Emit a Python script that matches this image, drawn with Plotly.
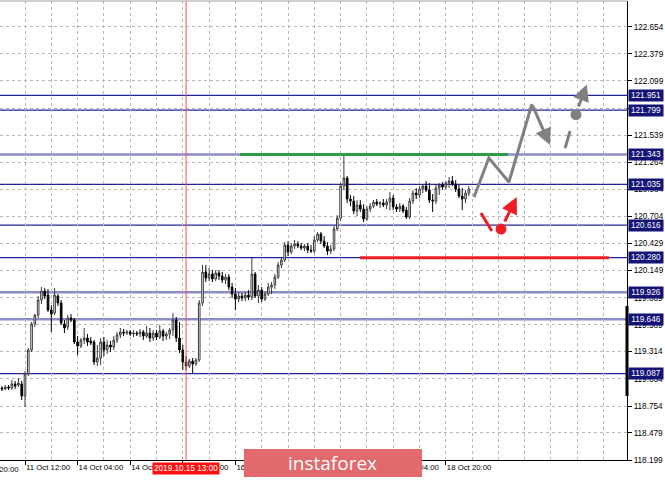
import plotly.graph_objects as go

# ---------------- data ----------------
# H1 bars, index 0 = 11 Oct 12:00
bar_index = list(range(-7, 136))

opens = [118.940, 118.930, 118.950, 118.940, 118.981, 118.971, 118.981, 118.857, 119.084, 119.331,
         119.598, 119.690, 119.845, 119.937, 119.896, 119.742, 119.711, 119.886, 119.814, 119.598,
         119.567, 119.660, 119.639, 119.413, 119.372, 119.433, 119.454, 119.423, 119.413, 119.207,
         119.248, 119.413, 119.331, 119.382, 119.361, 119.433, 119.485, 119.516, 119.505, 119.516,
         119.495, 119.505, 119.495, 119.516, 119.474, 119.505, 119.454, 119.505, 119.464, 119.526,
         119.474, 119.495, 119.536, 119.639, 119.454, 119.331, 119.207, 119.166, 119.217, 119.187,
         119.228, 119.814, 120.133, 120.071, 120.112, 120.061, 120.123, 120.092, 120.050, 120.081,
         119.978, 119.906, 119.855, 119.886, 119.865, 119.896, 119.875, 120.112, 119.886, 119.947,
         119.855, 119.906, 119.978, 119.999, 120.081, 120.205, 120.256, 120.410, 120.338, 120.400,
         120.421, 120.400, 120.379, 120.400, 120.359, 120.348, 120.462, 120.523, 120.451, 120.400,
         120.348, 120.369, 120.575, 120.688, 121.017, 121.100, 120.884, 120.863, 120.760, 120.822,
         120.781, 120.678, 120.781, 120.811, 120.852, 120.832, 120.842, 120.822, 120.852, 120.894,
         120.801, 120.781, 120.811, 120.770, 120.698, 120.863, 120.945, 120.925, 120.986, 121.017,
         120.976, 120.873, 120.863, 120.997, 121.028, 121.007, 121.048, 121.069, 121.038, 120.986,
         120.914, 120.884, 120.945]
highs = [118.960, 118.971, 118.971, 119.022, 119.012, 119.043, 119.012, 119.115, 119.351, 119.618,
         119.701, 119.886, 119.978, 119.968, 119.958, 119.793, 119.968, 119.907, 119.845, 119.639,
         119.690, 119.701, 119.660, 119.474, 119.454, 119.557, 119.495, 119.464, 119.433, 119.382,
         119.454, 119.464, 119.433, 119.423, 119.474, 119.516, 119.557, 119.547, 119.536, 119.536,
         119.536, 119.526, 119.547, 119.536, 119.577, 119.557, 119.536, 119.536, 119.588, 119.547,
         119.516, 119.557, 119.711, 119.670, 119.618, 119.382, 119.269, 119.238, 119.248, 119.248,
         119.845, 120.205, 120.205, 120.174, 120.153, 120.153, 120.153, 120.133, 120.112, 120.112,
         120.020, 119.968, 119.927, 119.917, 119.927, 119.947, 120.277, 120.133, 119.999, 119.978,
         119.927, 120.020, 120.030, 120.112, 120.236, 120.277, 120.441, 120.451, 120.431, 120.462,
         120.451, 120.431, 120.421, 120.431, 120.410, 120.503, 120.544, 120.544, 120.503, 120.441,
         120.410, 120.606, 120.719, 121.048, 121.343, 121.120, 120.925, 120.914, 120.873, 120.873,
         120.832, 120.811, 120.842, 120.873, 120.884, 120.863, 120.884, 120.884, 120.956, 120.925,
         120.832, 120.842, 120.832, 120.801, 120.894, 120.976, 120.997, 121.017, 121.038, 121.069,
         121.048, 120.935, 121.028, 121.048, 121.059, 121.069, 121.110, 121.120, 121.079, 121.028,
         120.997, 120.976, 121.017]
lows = [118.909, 118.919, 118.919, 118.919, 118.930, 118.950, 118.816, 118.744, 119.063, 119.310,
        119.567, 119.660, 119.804, 119.855, 119.721, 119.516, 119.690, 119.783, 119.588, 119.505,
        119.536, 119.618, 119.392, 119.279, 119.351, 119.392, 119.372, 119.382, 119.176, 119.166,
        119.176, 119.269, 119.290, 119.310, 119.331, 119.403, 119.454, 119.474, 119.485, 119.474,
        119.464, 119.474, 119.464, 119.433, 119.454, 119.413, 119.423, 119.433, 119.443, 119.423,
        119.433, 119.443, 119.474, 119.413, 119.300, 119.125, 119.125, 119.145, 119.094, 119.166,
        119.207, 119.783, 120.030, 120.040, 120.030, 120.040, 120.050, 120.020, 120.009, 119.947,
        119.865, 119.742, 119.824, 119.834, 119.834, 119.845, 119.845, 119.865, 119.814, 119.824,
        119.834, 119.886, 119.906, 119.958, 120.061, 120.174, 120.236, 120.297, 120.318, 120.369,
        120.379, 120.359, 120.348, 120.328, 120.328, 120.328, 120.441, 120.421, 120.379, 120.307,
        120.318, 120.348, 120.554, 120.657, 120.976, 120.842, 120.811, 120.729, 120.708, 120.750,
        120.646, 120.657, 120.750, 120.791, 120.811, 120.791, 120.801, 120.781, 120.770, 120.770,
        120.750, 120.750, 120.740, 120.678, 120.678, 120.832, 120.884, 120.894, 120.945, 120.956,
        120.842, 120.750, 120.832, 120.925, 120.976, 120.986, 120.997, 121.017, 120.956, 120.894,
        120.770, 120.842, 120.914]
closes = [118.930, 118.950, 118.940, 118.981, 118.960, 118.991, 118.857, 119.084, 119.331, 119.598,
          119.690, 119.845, 119.937, 119.886, 119.742, 119.701, 119.896, 119.814, 119.608, 119.557,
          119.660, 119.639, 119.413, 119.372, 119.433, 119.454, 119.413, 119.403, 119.207, 119.248,
          119.413, 119.331, 119.382, 119.361, 119.433, 119.485, 119.516, 119.505, 119.516, 119.495,
          119.505, 119.495, 119.516, 119.474, 119.505, 119.454, 119.505, 119.464, 119.526, 119.474,
          119.495, 119.536, 119.639, 119.454, 119.331, 119.207, 119.166, 119.217, 119.187, 119.228,
          119.814, 120.133, 120.071, 120.112, 120.061, 120.123, 120.092, 120.050, 120.081, 119.978,
          119.906, 119.855, 119.886, 119.865, 119.896, 119.875, 120.112, 119.886, 119.947, 119.855,
          119.906, 119.978, 119.999, 120.081, 120.205, 120.256, 120.410, 120.338, 120.400, 120.421,
          120.400, 120.379, 120.400, 120.359, 120.348, 120.462, 120.523, 120.451, 120.400, 120.348,
          120.369, 120.575, 120.688, 121.017, 121.100, 120.884, 120.863, 120.760, 120.822, 120.781,
          120.678, 120.781, 120.811, 120.852, 120.832, 120.842, 120.822, 120.852, 120.894, 120.801,
          120.781, 120.811, 120.760, 120.698, 120.863, 120.945, 120.925, 120.986, 121.017, 120.976,
          120.873, 120.863, 120.997, 121.028, 121.007, 121.048, 121.069, 121.038, 120.986, 120.914,
          120.884, 120.945, 120.986]

# time axis labels (bar index -> label)
time_tick_index = [-16, 0, 16, 32, 48, 64, 80, 96, 112, 128]
time_tick_labels = ["10 Oct 20:00", "11 Oct 12:00", "14 Oct 04:00", "14 Oct 20:00", "15 Oct 12:00",
                    "16 Oct 04:00", "16 Oct 20:00", "17 Oct 12:00", "18 Oct 04:00", "18 Oct 20:00"]
grid_step_bars = 8

# price axis ticks
price_ticks = [118.199, 118.479, 118.754, 119.034, 119.314, 119.589, 119.869, 120.149, 120.429,
               120.704, 120.984, 121.264, 121.539, 121.819, 122.099, 122.379, 122.654]

# horizontal levels
levels_dark = [121.951, 121.799, 121.035, 120.616, 120.280, 119.087]
levels_light = [121.343, 119.926, 119.646]

# marked time
marker_bar = 49
marker_label = "2019.10.15 13:00"

# forecast drawing (bar index, price)
green_x = [65.4, 146.9]
green_y = [121.343, 121.343]
redline_x = [101.9, 177.6]
redline_y = [120.280, 120.280]
gray_path_x = [136.6, 141.1, 147.2, 154.2]
gray_path_y = [120.904, 121.306, 121.059, 121.861]
gray_arrow1 = [(154.2, 121.861), (159.7, 121.44)]
gray_dash_x = [164.3, 165.8]
gray_dash_y = [121.408, 121.584]
gray_dot = (167.6, 121.752)
gray_arrow2 = [(168.2, 121.820), (170.9, 122.063)]
red_seg_x = [138.7, 142.0]
red_seg_y = [120.740, 120.555]
red_dot = (144.8, 120.575)
red_arrow = [(145.7, 120.637), (149.6, 120.904)]

axis_bar = [118.857, 119.783]

x_range = [-7.605, 183.12]
y_range = [118.199, 122.921]

# ---------------- figure ----------------
FONT = "Liberation Sans"
GRID = "#b8b8b8"
NAVY = "#24249a"
LAV = "#8c8cc8"
GRAY = "#808080"
RED = "#ee1c24"
FS = 8.2
FSX = 7.8

fig = go.Figure()

fig.add_trace(go.Candlestick(
    x=bar_index, open=opens, high=highs, low=lows, close=closes,
    increasing=dict(line=dict(color="#3a3a3a", width=1), fillcolor="white"),
    decreasing=dict(line=dict(color="black", width=1), fillcolor="black"),
    whiskerwidth=0, showlegend=False, hoverinfo="skip"))

# level lines
shapes = []
for v in levels_dark:
    shapes.append(dict(type="line", xref="paper", x0=0, x1=1, yref="y", y0=v, y1=v,
                       line=dict(color=NAVY, width=1.2), layer="below"))
for v in levels_light:
    shapes.append(dict(type="line", xref="paper", x0=0, x1=1, yref="y", y0=v, y1=v,
                       line=dict(color=LAV, width=2.5), layer="below"))
# marked time vertical line
shapes.append(dict(type="line", xref="x", x0=marker_bar, x1=marker_bar, yref="paper", y0=0, y1=1,
                   line=dict(color="#ff4a4a", width=1), layer="above"))
# top frame
shapes.append(dict(type="line", xref="paper", x0=0, x1=1, yref="paper", y0=1, y1=1,
                   line=dict(color="#a0a0a0", width=1)))
# thick bar on price axis
shapes.append(dict(type="line", xref="paper", x0=1, x1=1, yref="y", y0=axis_bar[0], y1=axis_bar[1],
                   line=dict(color="black", width=3)))

fig.add_trace(go.Scatter(x=green_x, y=green_y, mode="lines",
                         line=dict(color="#2a9e48", width=3), hoverinfo="skip", showlegend=False))
fig.add_trace(go.Scatter(x=redline_x, y=redline_y, mode="lines",
                         line=dict(color=RED, width=3), hoverinfo="skip", showlegend=False))
fig.add_trace(go.Scatter(x=gray_path_x, y=gray_path_y, mode="lines",
                         line=dict(color=GRAY, width=3), hoverinfo="skip", showlegend=False))
fig.add_trace(go.Scatter(x=gray_dash_x, y=gray_dash_y, mode="lines",
                         line=dict(color=GRAY, width=3), hoverinfo="skip", showlegend=False))
fig.add_trace(go.Scatter(x=[gray_dot[0]], y=[gray_dot[1]], mode="markers",
                         marker=dict(color=GRAY, size=11), hoverinfo="skip", showlegend=False))
fig.add_trace(go.Scatter(x=red_seg_x, y=red_seg_y, mode="lines",
                         line=dict(color=RED, width=3), hoverinfo="skip", showlegend=False))
fig.add_trace(go.Scatter(x=[red_dot[0]], y=[red_dot[1]], mode="markers",
                         marker=dict(color=RED, size=11), hoverinfo="skip", showlegend=False))

annotations = []
for (tail, tip, col) in [(gray_arrow1[0], gray_arrow1[1], GRAY),
                         (gray_arrow2[0], gray_arrow2[1], GRAY),
                         (red_arrow[0], red_arrow[1], RED)]:
    annotations.append(dict(x=tip[0], y=tip[1], ax=tail[0], ay=tail[1], xref="x", yref="y",
                            axref="x", ayref="y", text="", showarrow=True, arrowhead=2,
                            arrowsize=1.1, arrowwidth=3, arrowcolor=col, standoff=0))

# level price boxes on the axis
for v in levels_dark + levels_light:
    annotations.append(dict(xref="paper", x=1, xanchor="left", xshift=1, yref="y", y=v,
                            yanchor="middle", text=f"{v:.3f}", showarrow=False, bgcolor="#141478",
                            font=dict(family=FONT, size=FS, color="white"),
                            width=32, borderpad=1, align="center"))

# marked time label
annotations.append(dict(xref="x", x=marker_bar, yref="paper", y=0, yanchor="top", yshift=-2,
                        text=marker_label, showarrow=False, bgcolor="#ff1010",
                        font=dict(family=FONT, size=FS, color="white"), borderpad=1))

# out-of-range time labels (partially visible at the left edge)
for tv, tl in zip(time_tick_index, time_tick_labels):
    if tv < x_range[0]:
        px = (tv - x_range[0]) / (x_range[1] - x_range[0])
        annotations.append(dict(xref="paper", x=px, xanchor="left", yref="paper", y=0,
                                yanchor="top", yshift=-3, text=tl, showarrow=False,
                                font=dict(family=FONT, size=FSX, color="black")))

# logo
shapes.append(dict(type="rect", xref="paper", yref="paper", x0=0.389, x1=0.673, y0=-0.037, y1=0.024,
                   fillcolor="#e26a6c", line=dict(width=0), layer="above"))
annotations.append(dict(xref="paper", yref="paper", x=0.531, y=-0.0065, xanchor="center",
                        yanchor="middle", text="instaforex", showarrow=False,
                        font=dict(family="Open Sans", size=19, color="white")))

fig.update_layout(
    width=665, height=480,
    margin=dict(l=0, r=38, t=1, b=20),
    paper_bgcolor="white", plot_bgcolor="white",
    showlegend=False, hovermode=False,
    shapes=shapes, annotations=annotations,
    font=dict(family=FONT, size=FS, color="black"),
    xaxis=dict(range=x_range, rangeslider=dict(visible=False), tickmode="array",
               tickvals=time_tick_index, ticktext=time_tick_labels, tickangle=0,
               ticklabelposition="outside right", ticks="outside", ticklen=4,
               tickcolor="black", showline=True, linecolor="black", linewidth=1,
               showgrid=True, gridcolor=GRID, griddash="3px,3px", gridwidth=1,
               minor=dict(tickmode="linear", tick0=0, dtick=grid_step_bars, showgrid=True,
                          gridcolor=GRID, griddash="3px,3px", gridwidth=1, ticks=""),
               zeroline=False, automargin=False, fixedrange=True,
               tickfont=dict(family=FONT, size=FSX, color="black")),
    yaxis=dict(range=y_range, side="right", tickmode="array", tickvals=price_ticks,
               ticktext=[f"{v:.3f}" for v in price_ticks], ticks="outside", ticklen=4,
               tickcolor="black", showline=True, linecolor="black", linewidth=1,
               showgrid=True, gridcolor=GRID, griddash="3px,3px", gridwidth=1,
               zeroline=False, automargin=False, fixedrange=True,
               tickfont=dict(family=FONT, size=FS, color="black")),
)

fig.write_html("out.html", config={"displayModeBar": False},
               post_script="document.body.style.margin='0';document.body.style.padding='0';"
                           "document.body.style.overflow='hidden';")
